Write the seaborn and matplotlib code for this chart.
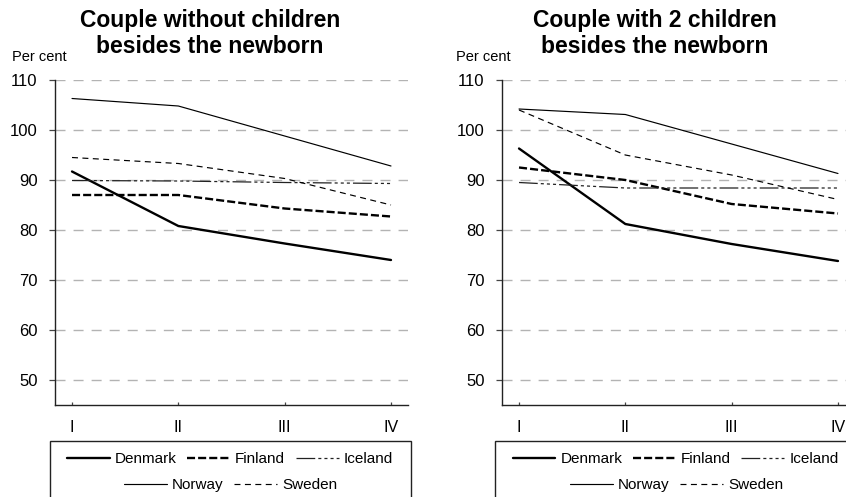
import matplotlib
matplotlib.use("Agg")
import matplotlib.pyplot as plt
import seaborn as sns
import pandas as pd
from matplotlib.lines import Line2D
from matplotlib.patches import Rectangle

sns.set_theme(style="white")
plt.rcParams['font.family'] = ['Liberation Sans', 'DejaVu Sans']
plt.rcParams['lines.scale_dashes'] = False
plt.rcParams['text.color'] = 'black'
plt.rcParams['xtick.color'] = 'black'
plt.rcParams['ytick.color'] = 'black'
plt.rcParams['xtick.labelcolor'] = 'black'
plt.rcParams['ytick.labelcolor'] = 'black'

periods = ["I", "II", "III", "IV"]
countries = ["Denmark", "Finland", "Iceland", "Norway", "Sweden"]
titles = ["Couple without children\nbesides the newborn",
          "Couple with 2 children\nbesides the newborn"]

# panel 1: couple without children besides the newborn
p1_denmark = [91.7, 80.8, 77.3, 74.0]
p1_finland = [87.0, 87.0, 84.3, 82.7]
p1_iceland = [89.9, 89.8, 89.5, 89.3]
p1_norway = [106.3, 104.8, 98.8, 92.8]
p1_sweden = [94.5, 93.3, 90.3, 85.0]

# panel 2: couple with 2 children besides the newborn
p2_denmark = [96.3, 81.2, 77.2, 73.8]
p2_finland = [92.5, 90.0, 85.2, 83.3]
p2_iceland = [89.5, 88.4, 88.4, 88.4]
p2_norway = [104.2, 103.1, 97.2, 91.3]
p2_sweden = [104.0, 95.0, 91.0, 86.1]

yticks = [50, 60, 70, 80, 90, 100, 110]

panels = [
    {"Denmark": p1_denmark, "Finland": p1_finland, "Iceland": p1_iceland,
     "Norway": p1_norway, "Sweden": p1_sweden},
    {"Denmark": p2_denmark, "Finland": p2_finland, "Iceland": p2_iceland,
     "Norway": p2_norway, "Sweden": p2_sweden},
]

styles = {
    "Denmark": dict(color="black", linewidth=1.7, linestyle="-"),
    "Finland": dict(color="black", linewidth=1.7, linestyle=(0, (5.8, 2.2))),
    "Iceland": dict(color="#222222", linewidth=0.9,
                    linestyle=(0, (13.5, 2.2, 2.2, 2.2, 2.2, 2.2, 2.2, 2.2))),
    "Norway": dict(color="black", linewidth=0.85, linestyle="-"),
    "Sweden": dict(color="black", linewidth=0.85, linestyle=(0, (4.3, 3.2))),
}

W, H = 846, 497
fig = plt.figure(figsize=(W / 100, H / 100), dpi=100)

ax_left_px = [55, 502]
title_cx = [210, 655]
percent_x = [12, 456]
leg_cx = [(230, 230.5), (675.5, 676.5)]
frame_x = [50, 495]

for i, data in enumerate(panels):
    ax = fig.add_axes([ax_left_px[i] / W, 1 - 405 / H, 353 / W, 325 / H])
    df = pd.DataFrame({"period": list(range(len(periods))) * len(countries),
                       "value": sum([data[c] for c in countries], []),
                       "country": sum([[c] * len(periods) for c in countries], [])})
    for c in countries:
        sub = df[df["country"] == c]
        sns.lineplot(data=sub, x="period", y="value", ax=ax, legend=False,
                     zorder=3, **styles[c])
    ax.set_xlim(-0.16, 3.16)
    ax.set_ylim(45, 110)
    ax.set_yticks(yticks)
    ax.set_yticklabels([str(t) for t in yticks], fontsize=12)
    ax.set_xticks(range(len(periods)))
    ax.set_xticklabels(periods, fontsize=11.5)
    ax.set_xlabel("")
    ax.set_ylabel("")
    ax.yaxis.grid(True, color="#b3b3b3", linewidth=1.0, linestyle=(0, (7.2, 5.8)))
    ax.xaxis.grid(False)
    for s in ["top", "right"]:
        ax.spines[s].set_visible(False)
    for s in ["left", "bottom"]:
        ax.spines[s].set_color("#222222")
        ax.spines[s].set_linewidth(1.0)
    ax.tick_params(axis="y", direction="out", length=4.3, width=0.9, pad=8.2,
                   left=True, color="#444444", labelcolor="black")
    ax.tick_params(axis="x", direction="in", length=2.5, width=0.9, pad=11.0,
                   bottom=True, color="#444444", labelcolor="black")

    lines = titles[i].split("\n")
    fig.text(title_cx[i] / W, 1 - 27 / H, lines[0], ha="center", va="baseline",
             fontsize=16.5, fontweight="bold", color="black")
    fig.text(title_cx[i] / W, 1 - 53 / H, lines[1], ha="center", va="baseline",
             fontsize=16.5, fontweight="bold", color="black")
    fig.text(percent_x[i] / W, 1 - 57 / H, "Per cent", ha="left", va="center",
             fontsize=10.5, color="black")

    def handle(c):
        return Line2D([], [], **styles[c])

    row1 = ["Denmark", "Finland", "Iceland"]
    row2 = ["Norway", "Sweden"]
    kw = dict(frameon=False, fontsize=11, handlelength=2.8, handletextpad=0.33,
              columnspacing=0.7, borderpad=0, borderaxespad=0, loc="center",
              bbox_transform=fig.transFigure, labelcolor="black")
    fig.legend([handle(c) for c in row1], row1, ncol=3,
               bbox_to_anchor=(leg_cx[i][0] / W, 1 - 459 / H), **kw)
    fig.legend([handle(c) for c in row2], row2, ncol=2,
               bbox_to_anchor=(leg_cx[i][1] / W, 1 - 485 / H), **kw)
    fig.add_artist(Rectangle((frame_x[i] / W, -0.2), 361 / W, 0.2 + 56 / H,
                             transform=fig.transFigure, fill=False,
                             edgecolor="#222222", linewidth=1.0, clip_on=False))

fig.savefig("out.png", dpi=100)
